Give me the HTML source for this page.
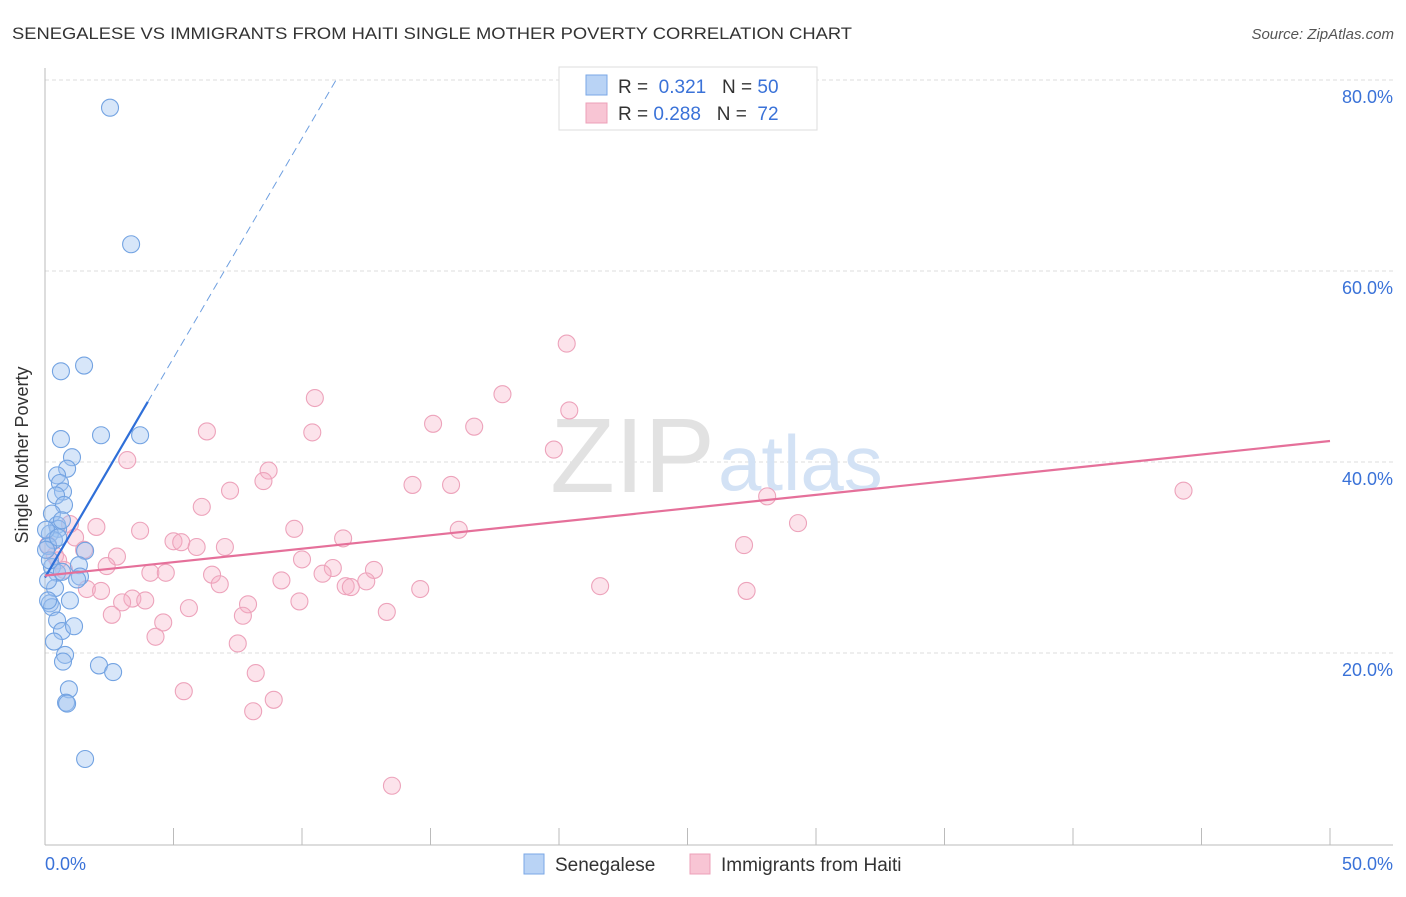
<!DOCTYPE html>
<html><head><meta charset="utf-8"><style>
body{margin:0;background:#fff;font-family:"Liberation Sans",sans-serif}
svg text{font-family:"Liberation Sans",sans-serif}
</style></head><body>
<svg id="c" width="1406" height="892">
<text x="12" y="39" font-size="17" fill="#333" textLength="840" lengthAdjust="spacingAndGlyphs">SENEGALESE VS IMMIGRANTS FROM HAITI SINGLE MOTHER POVERTY CORRELATION CHART</text>
<text x="1394" y="39" font-size="15" fill="#555" font-style="italic" text-anchor="end">Source: ZipAtlas.com</text>
<g id="grid"></g>
<text x="715" y="492" font-size="106" fill="#e2e2e2" text-anchor="end" font-family="Liberation Serif,serif">ZIP</text>
<text x="718" y="490" font-size="78" fill="#d3e2f5">atlas</text>
<line x1="45" y1="68" x2="45" y2="845" stroke="#bbb"/>
<line x1="45" y1="845" x2="1393" y2="845" stroke="#bbb"/>
<g id="ticks"></g>
<g id="pts"></g>
<g id="trends"></g>
<text x="28" y="455" font-size="18" fill="#333" text-anchor="middle" transform="rotate(-90 28 455)">Single Mother Poverty</text>
<text x="45" y="870" font-size="18" fill="#3a72d8">0.0%</text>
<text x="1393" y="870" font-size="18" fill="#3a72d8" text-anchor="end">50.0%</text>
<g>
<rect x="559" y="67" width="258" height="63" fill="#fff" stroke="#ddd"/>
<rect x="586" y="75" width="21" height="20" fill="#b9d3f5" stroke="#7aa7e6"/>
<rect x="586" y="103" width="21" height="20" fill="#f8c5d4" stroke="#eda0b8"/>
<text x="618" y="93" font-size="19" fill="#333">R = <tspan fill="#3a72d8">&#160;0.321</tspan>&#160;&#160;&#160;N = <tspan fill="#3a72d8">50</tspan></text>
<text x="618" y="120" font-size="19" fill="#333">R = <tspan fill="#3a72d8">0.288</tspan>&#160;&#160;&#160;N = &#160;<tspan fill="#3a72d8">72</tspan></text>
</g>
<g>
<rect x="524" y="854" width="20" height="20" fill="#b9d3f5" stroke="#7aa7e6"/>
<text x="555" y="871" font-size="19" fill="#333">Senegalese</text>
<rect x="690" y="854" width="20" height="20" fill="#f8c5d4" stroke="#eda0b8"/>
<text x="721" y="871" font-size="19" fill="#333">Immigrants from Haiti</text>
</g>
</svg>
<script>
const yTicks=[20,40,60,80];
const xTicks=[5,10,15,20,25,30,35,40,45,50];
const blueX=[2.53,3.35,1.52,0.62,2.18,3.70,0.62,1.05,0.86,0.47,0.58,0.70,0.43,0.74,0.27,0.47,0.51,0.19,0.35,0.12,1.56,1.32,1.36,1.25,0.27,0.47,0.66,0.39,0.19,0.27,0.47,0.66,1.13,0.35,0.78,0.70,2.10,2.65,0.93,0.82,0.86,1.56,0.12,0.12,0.19,0.04,0.04,0.51,0.66,0.97];
const blueY=[77.1,62.8,50.1,49.5,42.8,42.8,42.4,40.5,39.3,38.6,37.8,36.9,36.5,35.5,34.6,33.4,33.0,32.5,31.8,31.2,30.7,29.2,28.0,27.7,29.0,28.4,28.5,26.8,25.2,24.8,23.4,22.3,22.8,21.2,19.8,19.1,18.7,18.0,16.2,14.8,14.7,8.9,25.5,27.6,29.7,32.9,30.8,32.1,33.9,25.5];
const pinkX=[20.3,17.8,20.4,10.5,15.1,16.7,6.3,10.4,19.8,3.2,8.7,8.5,14.3,15.8,7.2,6.1,44.3,28.1,29.3,0.97,2.0,3.7,9.7,16.1,1.17,11.6,5.0,5.3,5.9,7.0,1.52,27.2,2.8,0.39,10.0,2.4,0.74,11.2,12.8,4.1,4.7,6.5,9.2,10.8,12.5,11.7,11.9,6.8,14.6,21.6,1.63,2.18,27.3,3.4,3.9,3.0,7.9,5.6,9.9,7.7,13.3,2.6,4.6,4.3,7.5,8.2,5.4,8.9,8.1,13.5,0.12,0.51];
const pinkY=[52.4,47.1,45.4,46.7,44.0,43.7,43.2,43.1,41.3,40.2,39.1,38.0,37.6,37.6,37.0,35.3,37.0,36.4,33.6,33.5,33.2,32.8,33.0,32.9,32.1,32.0,31.7,31.6,31.1,31.1,30.8,31.3,30.1,30.2,29.8,29.1,28.7,28.9,28.7,28.4,28.4,28.2,27.6,28.3,27.5,27.0,26.9,27.2,26.7,27.0,26.7,26.5,26.5,25.7,25.5,25.3,25.1,24.7,25.4,23.9,24.3,24.0,23.2,21.7,21.0,17.9,16.0,15.1,13.9,6.1,31.3,29.7];
const blueTrend=[27.9,4.6]; // intercept, slope
const pinkTrend=[28.1,0.282];
const X=v=>45+v*25.7, Y=v=>844-v*9.55;
const NS='http://www.w3.org/2000/svg';
function mk(tag,a,p){const e=document.createElementNS(NS,tag);for(const k in a)e.setAttribute(k,a[k]);p.appendChild(e);return e;}
const grid=document.getElementById('grid');
yTicks.forEach(t=>{
 const l=mk('line',{x1:45,x2:1393,y1:Y(t),y2:Y(t),stroke:'#ddd','stroke-dasharray':'4,3'},grid);
 
 
 const tx=mk('text',{x:1393,y:Y(t)+23,'font-size':18,fill:'#3a72d8','text-anchor':'end'},grid);
 tx.textContent=t.toFixed(1)+'%';
 
 
});
const tk=document.getElementById('ticks');
xTicks.forEach(t=>{
 const l=mk('line',{x1:X(t),x2:X(t),y1:828,y2:845,stroke:'#bbb'},tk);
 
 
});
const pts=document.getElementById('pts');
pinkX.forEach((v,i)=>{
 const c=mk('circle',{cx:X(v),cy:Y(pinkY[i]),r:8.5,fill:'rgba(245,175,198,0.35)',stroke:'#eda3bb','stroke-width':1.1},pts);
 
 
});
blueX.forEach((v,i)=>{
 const c=mk('circle',{cx:X(v),cy:Y(blueY[i]),r:8.5,fill:'rgba(160,195,240,0.42)',stroke:'#73a3e2','stroke-width':1.1},pts);
 
 
});
const tr=document.getElementById('trends');
const bEnd=(80-blueTrend[0])/blueTrend[1];
let l=mk('line',{x1:X(0),y1:Y(blueTrend[0]),x2:X(4),y2:Y(blueTrend[0]+4*blueTrend[1]),stroke:'#2f6fd8','stroke-width':2.2},tr);


l=mk('line',{x1:X(4),y1:Y(blueTrend[0]+4*blueTrend[1]),x2:X(bEnd),y2:Y(80),stroke:'#6e9fe0','stroke-width':1,'stroke-dasharray':'8,5'},tr);


l=mk('line',{x1:X(0),y1:Y(pinkTrend[0]),x2:X(50),y2:Y(pinkTrend[0]+50*pinkTrend[1]),stroke:'#e5709a','stroke-width':2.2},tr);


</script>
</body></html>
